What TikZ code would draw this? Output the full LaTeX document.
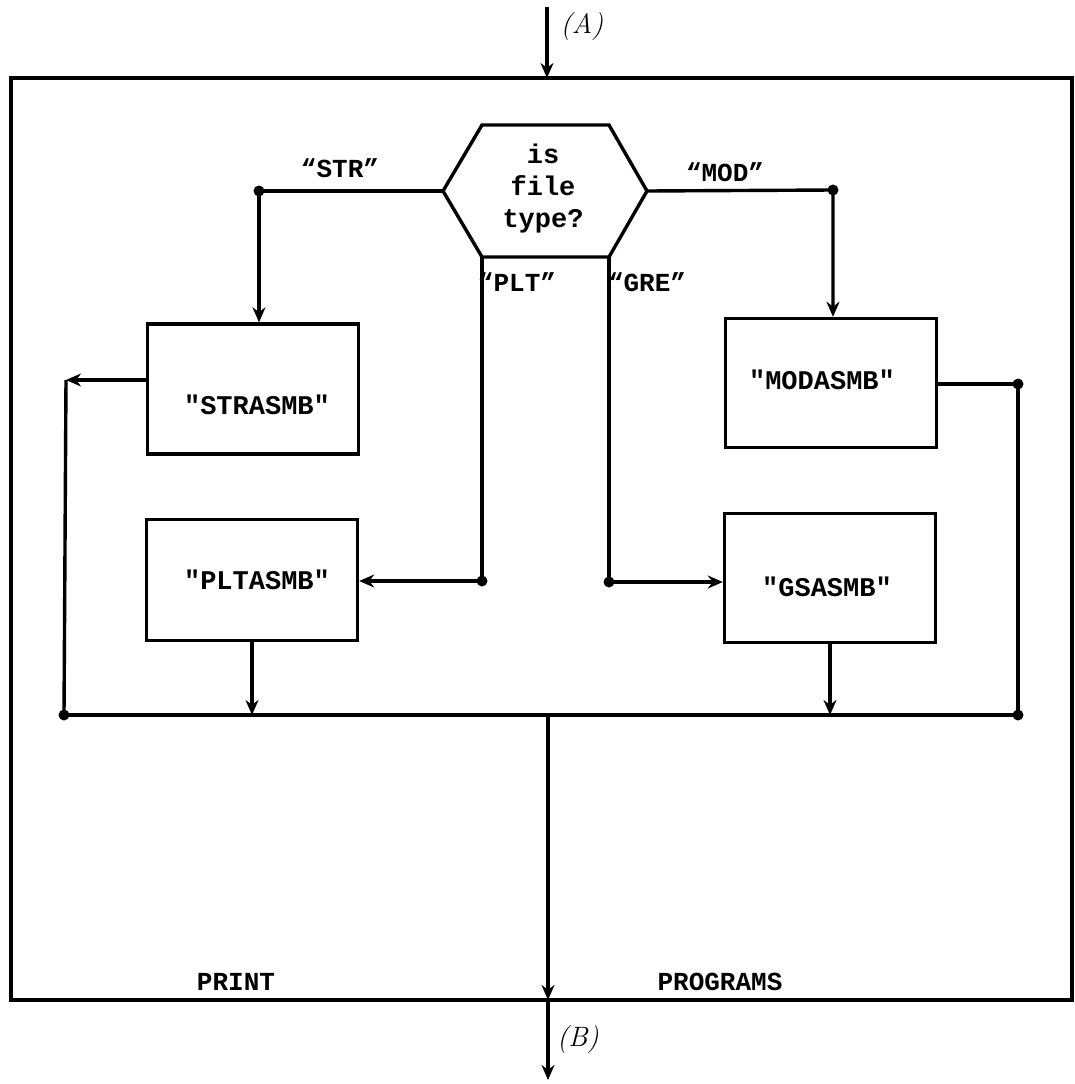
\documentclass[tikz,border=0pt]{standalone}
\usepackage{fontspec}
\setmonofont{Liberation Mono}
\usetikzlibrary{arrows.meta,calc}
\tikzset{
  ln/.style={line width=3.4pt},
  arr/.style={ln,-{Stealth[length=15pt,width=13pt]}},
  box/.style={draw,line width=3.4pt,minimum width=211pt,minimum height=130pt,inner sep=0pt},
  lbl/.style={font=\ttfamily\bfseries\fontsize{27}{32}\selectfont,inner sep=0pt},
  tag/.style={font=\ttfamily\bfseries\fontsize{26}{30}\selectfont,inner sep=0pt},
  hand/.style={font=\itshape\fontsize{28}{30}\selectfont,inner sep=0pt},
  dot/.style={fill,circle,inner sep=0pt,minimum size=11pt}
}
\begin{document}
\begin{tikzpicture}[x=1pt,y=-1pt]
\useasboundingbox (0,0) rectangle (1074,1084);
% frame
\node[draw,line width=3.6pt,minimum width=1061pt,minimum height=922pt,inner sep=0pt] (frame) at (541.5,539) {};
% decision hexagon
\coordinate (hL) at (443,191);
\coordinate (hTL) at (482,125);
\coordinate (hTR) at (609,125);
\coordinate (hR) at (647,191);
\coordinate (hBR) at (609,257);
\coordinate (hBL) at (482,257);
\draw[ln,line join=miter] (hL) -- (hTL) -- (hTR) -- (hR) -- (hBR) -- (hBL) -- cycle;
\node[lbl,align=center,font=\ttfamily\bfseries\fontsize{27}{32}\selectfont] (q) at (543,189) {is\\file\\type?};
% boxes
\node[box] (s) at (253,389) {};
\node[lbl] (sl) at (257,405) {"STRASMB"};
\node[box,minimum height=121pt] (p) at (252,580) {};
\node[lbl] (pl) at (257,580) {"PLTASMB"};
\node[box,minimum height=129pt] (m) at (831,383) {};
\node[lbl] (ml) at (822,380) {"MODASMB"};
\node[box,minimum height=129pt] (g) at (830,578) {};
\node[lbl] (gl) at (827,587) {"GSASMB"};
% branch labels
\node[tag] (tstr) at (340,168) {“STR”};
\node[tag] (tmod) at (725,172) {“MOD”};
\node[tag] (tplt) at (517,282) {“PLT”};
\node[tag] (tgre) at (647,282) {“GRE”};
% bottom labels
\node[tag] (print) at (236,982) {PRINT};
\node[tag] (prog) at (720,982) {PROGRAMS};
\node[hand] (A) at (582,27) {(A)};
\node[hand] (B) at (578,1040) {(B)};
% junction coordinates
\coordinate (in) at (547,7);
\coordinate (ftop) at (547,78);
\coordinate (c1) at (259,191);
\coordinate (c2) at (833,190);
\coordinate (c3) at (482,581);
\coordinate (c4) at (609,582);
\coordinate (c5) at (66,380);
\coordinate (c6) at (64,715);
\coordinate (c7) at (1018,384);
\coordinate (c8) at (1018,715);
\coordinate (bm) at (548,715);
\coordinate (fbot) at (548,1000);
\coordinate (out) at (548,1080);
% connectors
\draw[arr] (in) -- (ftop);
\draw[arr] (hL) -- (c1) -- (c1 |- s.north);
\draw[arr] (hR) -- (c2) -- (c2 |- m.north);
\draw[arr] (hBL) -- (c3) -- (c3 -| p.east);
\draw[arr] (hBR) -- (c4) -- (c4 -| g.west);
\draw[arr] (c5 -| s.west) -- (c5);
\draw[ln] (c5) -- (c6);
\draw[ln] (c7 -| m.east) -- (c7) -- (c8);
\draw[arr] (p.south) -- (p.south |- c6);
\draw[arr] (g.south) -- (g.south |- c8);
\draw[ln] (c6) -- (c8);
\draw[arr] (bm) -- (fbot);
\draw[arr] (fbot) -- (out);
% dots
\foreach \c in {c1,c2,c3,c4,c6,c7,c8} \node[dot] at (\c) {};
\end{tikzpicture}
\end{document}
